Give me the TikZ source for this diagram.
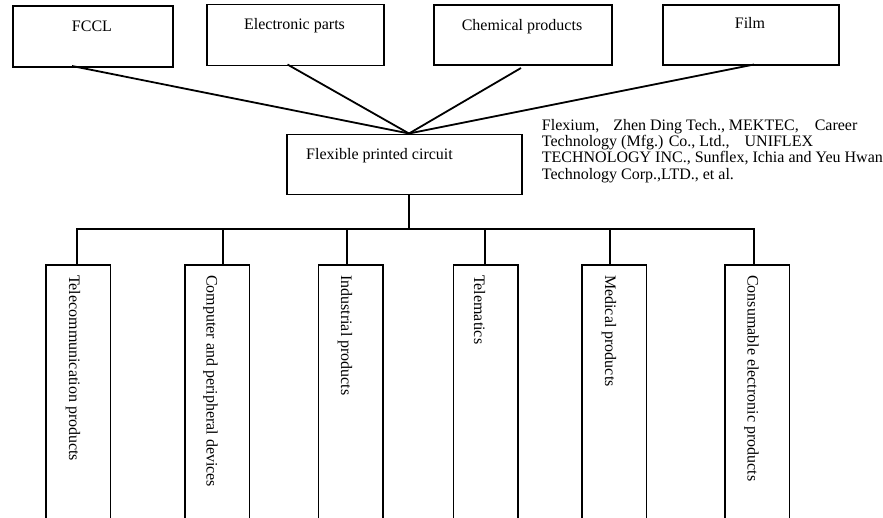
\documentclass[tikz,border=0pt]{standalone}
\usepackage{fontspec}
\setmainfont{Liberation Serif}
\begin{document}
\begin{tikzpicture}[x=1pt,y=-1pt,
  box/.style={draw, line width=1.8pt, inner sep=0pt, anchor=north west},
  lbl/.style={inner sep=0pt, font=\fontsize{16}{16.3}\selectfont},
  vlbl/.style={lbl, rotate=-90, anchor=west},
  con/.style={line width=1.8pt}]
\useasboundingbox (0,0) rectangle (883,517);
% top boxes
\node[box, minimum width=160pt, minimum height=61pt] (fccl) at (12,5) {};
\node[box, minimum width=177pt, minimum height=61pt] (elec) at (206,3.5) {};
\node[box, minimum width=178pt, minimum height=60pt] (chem) at (433,4) {};
\node[box, minimum width=176pt, minimum height=60pt] (film) at (662,4) {};
\node[lbl, anchor=base] (fcclt) at (92,31.5) {FCCL};
\node[lbl, anchor=base] (elect) at (294.5,29.3) {Electronic parts};
\node[lbl, anchor=base] (chemt) at (522,30.7) {Chemical products};
\node[lbl, anchor=base] (filmt) at (750,28.5) {Film};
% central box
\node[box, minimum width=235pt, minimum height=60pt] (fpc) at (286,133.5) {};
\node[lbl, anchor=base west] (fpct) at (306,159.3) {Flexible printed circuit};
% company text
\node[lbl, anchor=base west] (c1) at (541.7,130) {Flexium,\hspace{14pt}Zhen Ding Tech., MEKTEC,\hspace{16pt}Career};
\node[lbl, anchor=base west] (c2) at (541.7,146.3) {Technology (Mfg.) Co., Ltd.,\hspace{15pt}UNIFLEX};
\node[lbl, anchor=base west] (c3) at (541.7,162.6) {TECHNOLOGY INC., Sunflex, Ichia and Yeu Hwan};
\node[lbl, anchor=base west] (c4) at (541.7,179) {Technology Corp.,LTD., et al.};
% connectors top
\coordinate (hub) at (409,133.5);
\coordinate (fcclb) at (72,66);
\coordinate (elecb) at (287.5,64.5);
\coordinate (chemb) at (521,68);
\coordinate (filmb) at (754,64.5);
\draw[con] (fcclb) -- (hub);
\draw[con] (elecb) -- (hub);
\draw[con] (chemb) -- (hub);
\draw[con] (filmb) -- (hub);
% bottom boxes
\node[box, minimum width=64.5pt, minimum height=270pt] (tel) at (45,264) {};
\node[box, minimum width=64.5pt, minimum height=270pt] (comp) at (184,264) {};
\node[box, minimum width=64.5pt, minimum height=270pt] (ind) at (317.5,264) {};
\node[box, minimum width=64.5pt, minimum height=270pt] (tmt) at (452.5,264) {};
\node[box, minimum width=64.5pt, minimum height=270pt] (med) at (581,264) {};
\node[box, minimum width=64.5pt, minimum height=270pt] (cons) at (724,264) {};
\node[vlbl] (telt) at (73,275) {Telecommunication products};
\node[vlbl] (compt) at (210.5,275) {Computer and peripheral devices};
\node[vlbl] (indt) at (345,275) {Industrial products};
\node[vlbl] (tmtt) at (479.5,275) {Telematics};
\node[vlbl] (medt) at (609,275) {Medical products};
\node[vlbl] (const) at (751.5,275) {Consumable electronic products};
% bus
\coordinate (b1) at (77,229);
\coordinate (b2) at (223,229);
\coordinate (b3) at (347,229);
\coordinate (b4) at (485,229);
\coordinate (b5) at (610,229);
\coordinate (b6) at (754,229);
\draw[con] (fpc.south -| hub) -- (hub |- b1);
\draw[con, line cap=rect] (b1) -- (b6);
\draw[con] (b1) -- (b1 |- tel.north);
\draw[con] (b2) -- (b2 |- comp.north);
\draw[con] (b3) -- (b3 |- ind.north);
\draw[con] (b4) -- (b4 |- tmt.north);
\draw[con] (b5) -- (b5 |- med.north);
\draw[con] (b6) -- (b6 |- cons.north);
\end{tikzpicture}
\end{document}
